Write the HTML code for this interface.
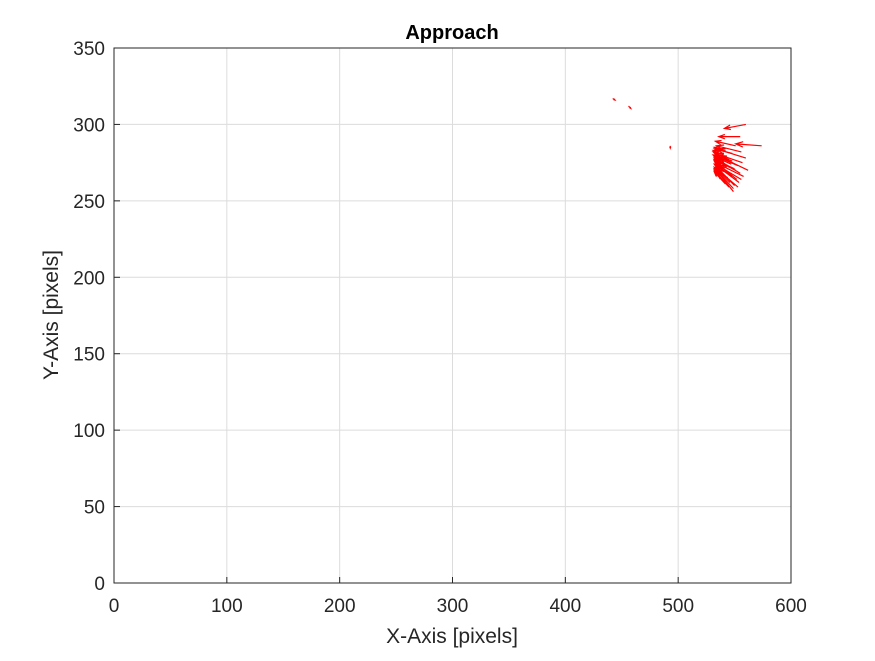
<!DOCTYPE html>
<html><head><meta charset="utf-8"><style>
body{margin:0;background:#fff;}
svg text{font-family:"Liberation Sans",Arial,sans-serif;fill:#262626;}
</style></head><body>
<svg id="chart" width="875" height="656" viewBox="0 0 875 656" xmlns="http://www.w3.org/2000/svg">
<rect x="0" y="0" width="875" height="656" fill="#fff"/>
<rect x="114" y="48" width="677" height="535" fill="#fff" stroke="none"/>
<g id="grid"></g>
<g id="arrows"></g>
<g id="axes"></g>
<text x="452" y="39" text-anchor="middle" font-size="20" font-weight="bold" style="fill:#000">Approach</text>
<text x="452" y="643" text-anchor="middle" font-size="21">X-Axis [pixels]</text>
<text transform="translate(58,315) rotate(-90)" text-anchor="middle" font-size="21">Y-Axis [pixels]</text>
</svg>
<script>
const xTicks=[0,100,200,300,400,500,600];
const yTicks=[0,50,100,150,200,250,300,350];
const arrowX=[442,456,493,560,555,574,551,556,548,560,557,553,562,550,555,548,552,546,550,554,544,558,545,549,542,545,540,542,547,551,556,553,549,545,543,548];
const arrowY=[317,312,286,300,292,286,286,282,281,278,275,273,270,271,268,266,264,262,260,262,265,266,259,258,261,277,280,283,274,270,264,259,256,268,272,276];
const arrowU=[2,2,0,-19,-19,-23,-18,-22,-16,-26,-24,-22,-28,-18,-22,-16,-20,-14,-17,-20,-12,-25,-13,-15,-10,-14,-9,-10,-15,-19,-23,-19,-14,-12,-11,-15];
const arrowV=[-1,-1.5,-1.5,-2.6,0,1.3,3,4,3,6,6,7,10,6,10,8,12,10,13,11,6,9,11,12,8,5,3,2,5,7,10,12,13,8,6,4];
const NS="http://www.w3.org/2000/svg";
const L=114,R=791,T=48,B=583;
const sx=v=>L+(v-0)/600*(R-L);
const sy=v=>B-(v-0)/350*(B-T);
const grid=document.getElementById('grid'),axes=document.getElementById('axes'),arr=document.getElementById('arrows');
function mk(tag,a,p){const e=document.createElementNS(NS,tag);for(const k in a)e.setAttribute(k,a[k]);p.appendChild(e);return e;}
xTicks.forEach(t=>{
  const g=mk('line',{x1:sx(t),x2:sx(t),y1:T,y2:B,stroke:'#dcdcdc','stroke-width':1},grid);
  
  
  const tk=mk('line',{x1:sx(t),x2:sx(t),y1:B,y2:B-6,stroke:'#262626'},axes);
  
  
  const tx=mk('text',{x:sx(t),y:B+29,'text-anchor':'middle','font-size':19},axes);
  tx.textContent=t;
  
  
});
yTicks.forEach(t=>{
  const g=mk('line',{x1:L,x2:R,y1:sy(t),y2:sy(t),stroke:'#dcdcdc','stroke-width':1},grid);
  
  
  const tk=mk('line',{x1:L,x2:L+6,y1:sy(t),y2:sy(t),stroke:'#262626'},axes);
  
  
  const tx=mk('text',{x:L-9,y:sy(t)+7,'text-anchor':'end','font-size':19},axes);
  tx.textContent=t;
  
  
});
const box=mk('rect',{x:L,y:T,width:R-L,height:B-T,fill:'none',stroke:'#262626','stroke-width':1},axes);


for(let i=0;i<arrowX.length;i++){
  const x1=sx(arrowX[i]),y1=sy(arrowY[i]),x2=sx(arrowX[i]+arrowU[i]),y2=sy(arrowY[i]+arrowV[i]);
  const dx=x2-x1,dy=y2-y1,len=Math.hypot(dx,dy)||1,a=Math.atan2(dy,dx),h=Math.max(1.5,len*0.3),s=0.35;
  const d=`M${x1},${y1}L${x2},${y2}M${x2-h*Math.cos(a-s)},${y2-h*Math.sin(a-s)}L${x2},${y2}L${x2-h*Math.cos(a+s)},${y2-h*Math.sin(a+s)}`;
  const p=mk('path',{d:d,stroke:'#ff0000','stroke-width':1.2,fill:'none'},arr);
  
  
}
</script>
</body></html>
